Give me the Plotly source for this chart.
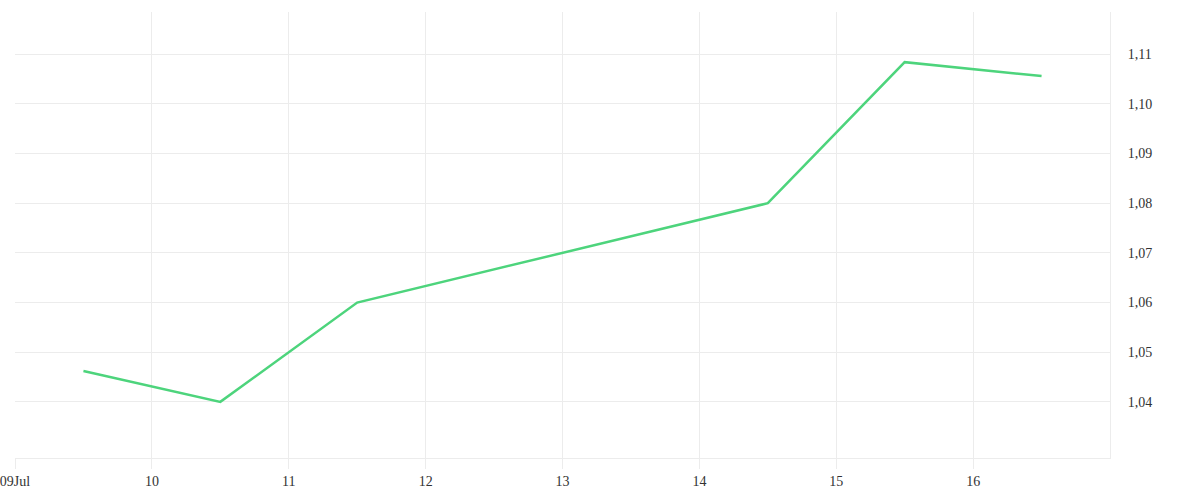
import plotly.graph_objects as go

# daily values, plotted at midday
dates = ["2024-07-09 12:00", "2024-07-10 12:00", "2024-07-11 12:00",
         "2024-07-14 12:00", "2024-07-15 12:00", "2024-07-16 12:00"]
values = [1.0462, 1.0400, 1.0600, 1.0800, 1.1084, 1.1056]

tick_dates = ["2024-07-09", "2024-07-10", "2024-07-11", "2024-07-12",
              "2024-07-13", "2024-07-14", "2024-07-15", "2024-07-16"]
tick_labels = ["09Jul", "10", "11", "12", "13", "14", "15", "16"]

grid = "#ececec"

fig = go.Figure()
fig.add_trace(go.Scatter(
    x=dates, y=values,
    mode="lines",
    line=dict(color="#4dd47c", width=2.5),
    showlegend=False,
))

fig.update_layout(
    width=1200, height=500,
    margin=dict(l=15, r=90, t=12, b=42),
    paper_bgcolor="white",
    plot_bgcolor="white",
    separators=",.",
    font=dict(family="Liberation Serif", size=14, color="#333"),
    xaxis=dict(
        type="date",
        range=["2024-07-09", "2024-07-17"],
        tickvals=tick_dates,
        ticktext=tick_labels,
        showgrid=True, gridcolor=grid, gridwidth=1,
        ticks="outside", ticklen=10, tickcolor=grid,
        showline=True, linecolor=grid, linewidth=1,
        zeroline=False, automargin=False,
        ticklabeloverflow="allow",
    ),
    yaxis=dict(
        side="right",
        range=[1.0287, 1.1185],
        tickvals=[1.04, 1.05, 1.06, 1.07, 1.08, 1.09, 1.10, 1.11],
        tickformat=".2f",
        showgrid=True, gridcolor=grid, gridwidth=1,
        ticks="outside", ticklen=14, tickcolor="rgba(0,0,0,0)",
        showline=True, linecolor=grid, linewidth=1,
        zeroline=False, automargin=False,
    ),
)

# drop the page's default body margin so the figure sits at the top-left corner
fig.write_html("out.html", config={"displayModeBar": False},
               post_script="document.body.style.margin = '0';")
